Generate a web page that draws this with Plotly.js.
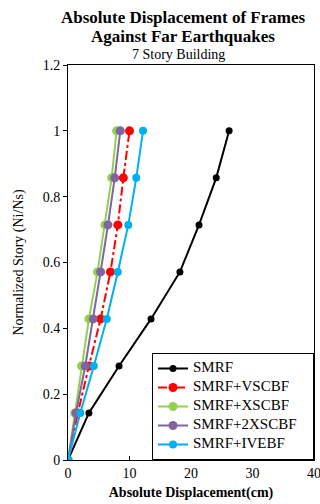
<!DOCTYPE html>
<html><head><meta charset="utf-8">
<script src="https://cdn.plot.ly/plotly-3.0.1.min.js"></script>
<style>html,body{margin:0;padding:0;background:#fff}#c{width:320px;height:504px}</style>
</head><body><div id="c"></div>
<script>
const story = [0, 0.1429, 0.2857, 0.4286, 0.5714, 0.7143, 0.8571, 1.0];
const smrf = [0, 3.4, 8.3, 13.5, 18.2, 21.3, 24.1, 26.2];
const vscbf = [0, 1.6, 3.4, 5.3, 6.9, 8.1, 9.0, 10.0];
const xscbf = [0, 1.1, 2.2, 3.4, 4.8, 6.0, 7.1, 7.9];
const x2scbf = [0, 1.3, 2.8, 4.1, 5.3, 6.5, 7.6, 8.5];
const ivebf = [0, 2.0, 4.2, 6.3, 8.1, 9.8, 11.1, 12.2];
const names = ['SMRF', 'SMRF+VSCBF', 'SMRF+XSCBF', 'SMRF+2XSCBF', 'SMRF+IVEBF'];
const xTicks = [0, 10, 20, 30, 40];
const yTicks = [0, 0.2, 0.4, 0.6, 0.8, 1, 1.2];
const titleLines = ['Absolute Displacement of Frames', 'Against Far Earthquakes'];
const subtitle = '7 Story Building';

const series = [smrf, vscbf, xscbf, x2scbf, ivebf];
const colors = ['#000000', '#FF0000', '#92D050', '#8064A2', '#00B0F0'];
const dashes = ['solid', 'dashdot', 'solid', 'solid', 'solid'];
const msize = [7, 9, 9, 9, 8];
const traces = series.map((s, i) => ({
  x: s, y: story, type: 'scatter', mode: 'lines+markers',
  name: '<span style="font-size:15px">' + names[i] + '</span>\u00a0\u00a0\u00a0\u00a0\u00a0',
  line: {color: colors[i], width: 2, dash: dashes[i]},
  marker: {color: colors[i], size: msize[i]}
}));
const font = '"Liberation Serif", "Times New Roman", serif';
const H = 504, T = 65, B = 44, PH = H - T - B;
const L = 68, R = 6, PW = 320 - L - R;
const py = pix => 1 + (T - pix) / PH;
const px = pix => (pix - L) / PW;
const layout = {
  width: 320, height: 504,
  margin: {l: L, r: R, t: T, b: B},
  paper_bgcolor: '#fff', plot_bgcolor: '#fff',
  font: {family: font, size: 14, color: '#000'},
  annotations: [
    {text: '<b>' + titleLines[0] + '</b>', xref: 'paper', yref: 'paper', x: px(183), y: py(17), yanchor: 'middle', showarrow: false, font: {family: font, size: 17, color: '#000'}},
    {text: '<b>' + titleLines[1] + '</b>', xref: 'paper', yref: 'paper', x: px(183), y: py(36), yanchor: 'middle', showarrow: false, font: {family: font, size: 17, color: '#000'}},
    {text: subtitle, xref: 'paper', yref: 'paper', x: px(178), y: py(54), yanchor: 'middle', showarrow: false, font: {family: font, size: 14, color: '#000'}}
  ],
  xaxis: {range: [0, 40], tickvals: xTicks, ticktext: xTicks.map(String), ticks: 'inside', ticklen: 4, tickcolor: '#000',
    showline: true, linecolor: '#000', linewidth: 1, mirror: true, showgrid: false, zeroline: false,
    ticklabeloverflow: 'allow',
    title: {text: '<b>Absolute Displacement(cm)</b>', font: {family: font, size: 14, color: '#000'}, standoff: 7},
    tickfont: {family: font, size: 14, color: '#000'}},
  yaxis: {range: [0, 1.2], tickvals: yTicks, ticktext: yTicks.map(String), ticks: 'outside', ticklen: 4, tickcolor: '#000',
    showline: true, linecolor: '#000', linewidth: 1, mirror: true, showgrid: false, zeroline: false,
    title: {text: 'Normalized Story (Ni/Ns)', font: {family: font, size: 14, color: '#000'}, standoff: 15},
    tickfont: {family: font, size: 14, color: '#000'}},
  legend: {x: 1, xanchor: 'right', y: 0, yanchor: 'bottom', bgcolor: '#fff', bordercolor: '#000', borderwidth: 1,
    font: {family: font, size: 9, color: '#000'}, tracegroupgap: 0, itemwidth: 30}
};
Plotly.newPlot('c', traces, layout, {staticPlot: true, displayModeBar: false});
</script></body></html>
